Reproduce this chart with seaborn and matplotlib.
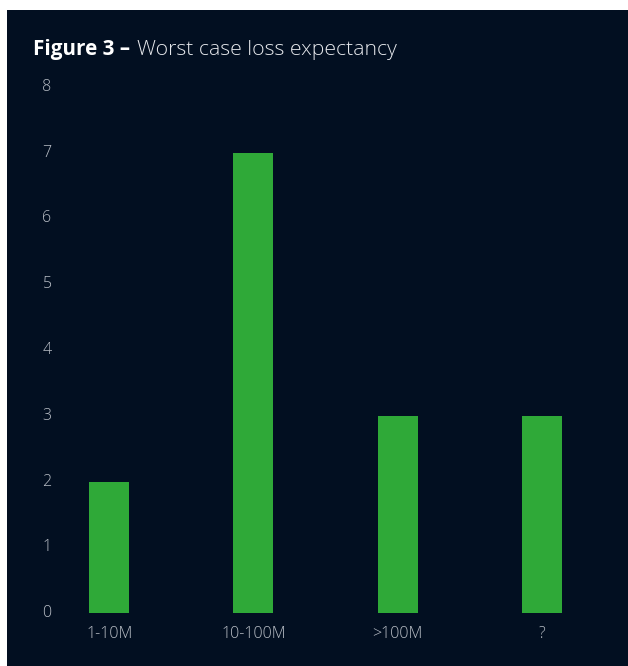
import matplotlib
matplotlib.use("Agg")
import matplotlib.pyplot as plt
import matplotlib.transforms as mtransforms
from matplotlib.patches import Rectangle
import seaborn as sns
import pandas as pd

categories = ["1-10M", "10-100M", ">100M", "?"]
counts = [2, 7, 3, 3]
y_ticks = [0, 1, 2, 3, 4, 5, 6, 7, 8]

title_bold = "Figure 3 \u2013"
title_rest = "Worst case loss expectancy"

navy = "#020f21"
green = "#2fa938"
label_grey = "#b9bec6"

sns.set_theme(style="white")
plt.rcParams["font.family"] = ["Open Sans", "DejaVu Sans"]

fig = plt.figure(figsize=(6.28, 6.66), dpi=100, facecolor="white")
fig.patches.append(Rectangle((7 / 628, 0), 1, 1 - 10 / 666, transform=fig.transFigure,
                             facecolor=navy, edgecolor="none", zorder=-10))

ax = fig.add_axes([37 / 628, (666 - 613) / 666, 577 / 628, 526 / 666])
ax.set_facecolor("none")
ax.set_zorder(5)

df = pd.DataFrame({"category": categories, "count": counts})
sns.barplot(data=df, x="category", y="count", color=green, width=0.278,
            saturation=1, ax=ax)
for p in ax.patches:
    p.set_edgecolor("none")

ax.set_xlim(-0.5, 3.5)
ax.set_ylim(0, 8)
ax.set_yticks(y_ticks)
ax.set_yticklabels([str(v) for v in y_ticks])
ax.set_xlabel("")
ax.set_ylabel("")
sns.despine(ax=ax, left=True, bottom=True)
ax.grid(False)

ax.tick_params(axis="both", length=0, colors=label_grey, labelsize=11.5)
ax.tick_params(axis="y", pad=-7.2)
ax.tick_params(axis="x", pad=9.5)
shift = mtransforms.ScaledTranslation(0, 2 / 100, fig.dpi_scale_trans)
for t in ax.get_yticklabels():
    t.set_ha("center")
    t.set_fontweight("light")
    t.set_transform(t.get_transform() + shift)
for t in ax.get_xticklabels():
    t.set_fontweight("light")

# Title: bold lead-in followed by the lighter description
t1 = fig.text(33 / 628, 1 - 55 / 666, title_bold, color="white", fontsize=14.9,
              fontweight="bold", ha="left", va="baseline", zorder=6)
fig.canvas.draw()
bb = t1.get_window_extent(renderer=fig.canvas.get_renderer())
fig.text((bb.x1 + 7) / 628, 1 - 55 / 666, title_rest, color="#e6e8ec",
         fontsize=15.3, fontweight="light", ha="left", va="baseline", zorder=6)

fig.savefig("out.png", dpi=100, facecolor="white")
